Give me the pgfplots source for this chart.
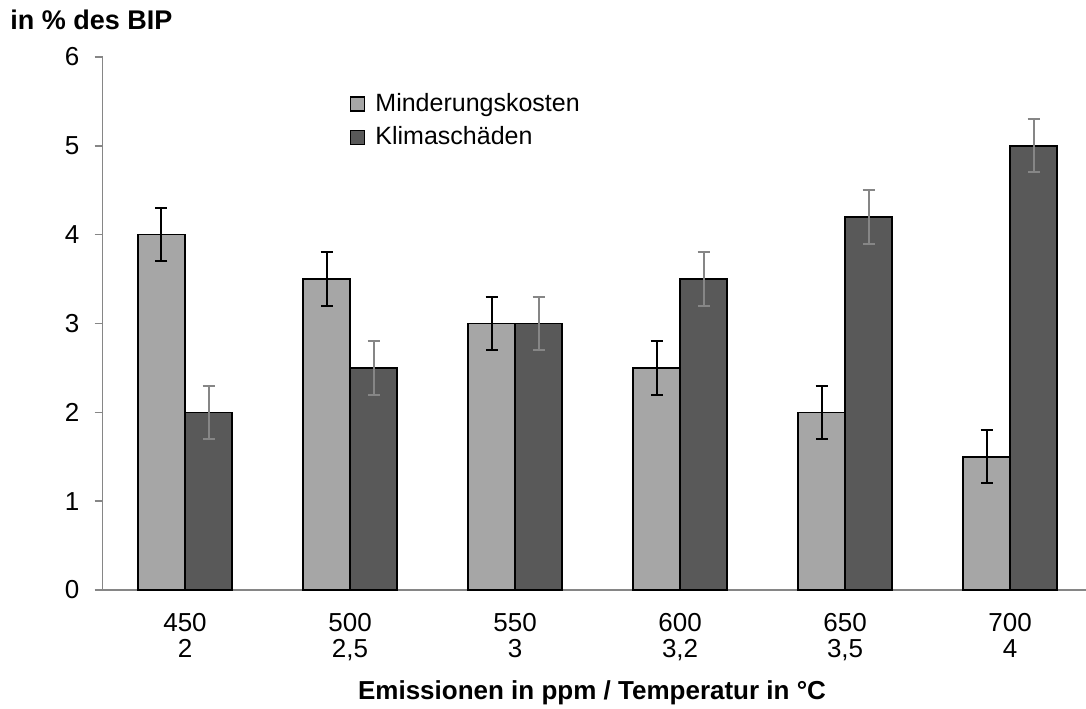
\documentclass[border=0pt]{standalone}
\usepackage{pgfplots}
\usepackage{pgfplotstable}
\pgfplotsset{compat=1.18}
\usepackage{fontspec}
\setmainfont{Liberation Sans}
\definecolor{lightbar}{HTML}{A6A6A6}
\definecolor{darkbar}{HTML}{595959}
\definecolor{axisgray}{HTML}{868686}

\pgfplotstableread{
x  y    err
0  4.0  0.3
1  3.5  0.3
2  3.0  0.3
3  2.5  0.3
4  2.0  0.3
5  1.5  0.3
}\minderung

\pgfplotstableread{
x  y    err
0  2.0  0.3
1  2.5  0.3
2  3.0  0.3
3  3.5  0.3
4  4.2  0.3
5  5.0  0.3
}\klima

\begin{document}
\begin{tikzpicture}
  \path[use as bounding box] (0,0) rectangle (543pt,354pt);
  \begin{axis}[
      at={(51.25pt,59pt)}, anchor=south west,
      scale only axis,
      width=491.75pt, height=266.5pt,
      xmin=-0.5, xmax=5.46,
      ymin=0, ymax=6,
      axis lines*=left,
      axis line style={axisgray, line width=0.8pt},
      every tick/.style={axisgray, line width=0.8pt},
      tick align=outside,
      ytick={0,...,6},
      major tick length=4pt,
      xtick={0,...,5},
      xticklabels={{450\\2},{500\\2,5},{550\\3},{600\\3,2},{650\\3,5},{700\\4}},
      xtick style={draw=none},
      minor xtick={-0.5,0.5,1.5,2.5,3.5,4.5},
      minor tick length=4pt,
      xticklabel style={align=center, font=\fontsize{13}{13}\selectfont, yshift=-4pt},
      yticklabel style={font=\fontsize{13}{14}\selectfont, xshift=-4pt},
      /pgf/number format/assume math mode=true,
      bar width=0.285,
      legend style={at={(0.245,0.947)}, anchor=north west, draw=none,
        font=\fontsize{12.5}{14}\selectfont, row sep=2pt},
      legend cell align=left,
      legend image code/.code={
        \draw[#1] (0pt,-3.5pt) rectangle (7pt,3.5pt);
        \path (10pt,0pt);
      },
    ]
    \addplot[ybar, bar shift=0pt, fill=lightbar, draw=black, line width=0.8pt,
      error bars/.cd, y dir=both, y explicit,
      error bar style={black, line width=1pt},
      error mark options={rotate=90, mark size=3pt, line width=1pt, black}]
      table[x expr=\thisrow{x}-0.1425, y=y, y error=err] {\minderung};
    \addlegendentry{Minderungskosten}
    \addplot[ybar, bar shift=0pt, fill=darkbar, draw=black, line width=0.8pt,
      error bars/.cd, y dir=both, y explicit,
      error bar style={axisgray, line width=1pt},
      error mark options={rotate=90, mark size=3pt, line width=1pt, axisgray}]
      table[x expr=\thisrow{x}+0.1425, y=y, y error=err] {\klima};
    \addlegendentry{Klimaschäden}
  \end{axis}
  \node[anchor=north west, inner sep=0pt, font=\fontsize{13.5}{15}\selectfont\bfseries]
    at (5pt,349pt) {in \% des BIP};
  \node[anchor=center, inner sep=0pt, font=\fontsize{13}{15}\selectfont\bfseries]
    at (296pt,7.5pt) {Emissionen in ppm / Temperatur in °C};
\end{tikzpicture}
\end{document}
